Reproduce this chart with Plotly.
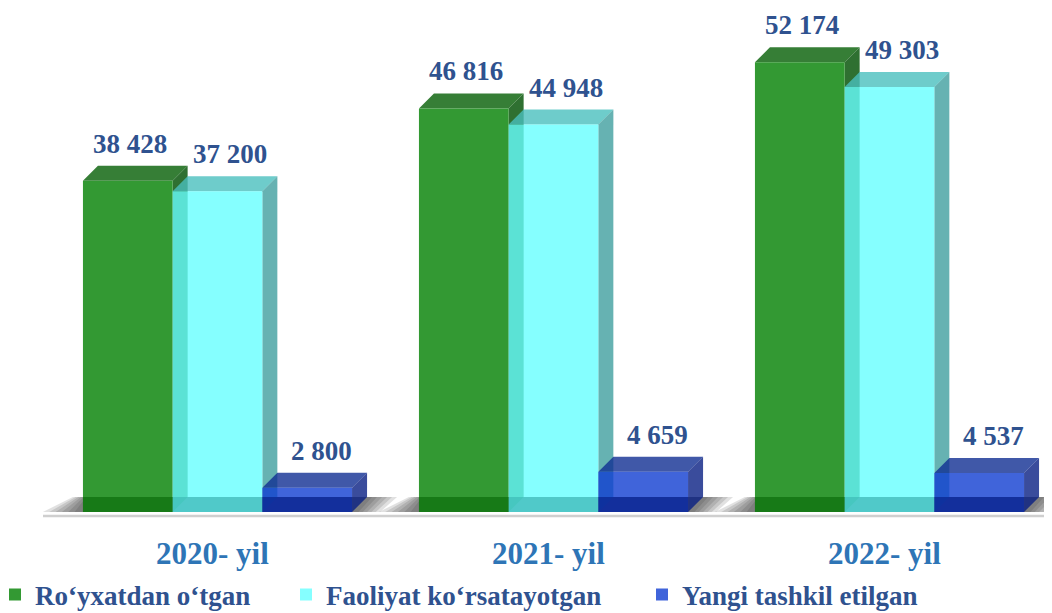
import plotly.graph_objects as go

# ---------------- data ----------------
categories = ["2020- yil", "2021- yil", "2022- yil"]
series_names = ["Ro‘yxatdan o‘tgan", "Faoliyat ko‘rsatayotgan", "Yangi tashkil etilgan"]
registered = [38428, 46816, 52174]
active = [37200, 44948, 49303]
new_created = [2800, 4659, 4537]
series_values = [registered, active, new_created]

# ---------------- geometry / style ----------------
W, H = 1052, 613
PAGE_OFF = 8.0         # browser default body margin
STEP_PX = 336.0        # pixels between category centres
X0_PX = 217.5 - PAGE_OFF   # figure pixel of first category centre
BASE_PX = 512.0 - PAGE_OFF # figure pixel of value 0
K = 0.00862            # pixels per value unit
BAR_W = 89.7 / STEP_PX
DX = 15.0 / STEP_PX    # 3D depth in x units
DY = 15.0 / K          # 3D depth in y units

x_range = [-X0_PX / STEP_PX, (W - X0_PX) / STEP_PX]
y_range = [-(H - BASE_PX) / K, BASE_PX / K]

front_colors = ["rgb(51,153,51)", "rgba(102,255,255,0.8)", "rgba(16,61,209,0.8)"]
top_colors = ["rgb(54,126,54)", "rgba(74,191,190,0.8)", "rgba(16,46,146,0.8)"]
side_colors = ["rgb(47,112,49)", "rgba(64,159,159,0.8)", "rgba(9,31,131,0.8)"]
band_colors = ["rgba(0,97,0,0.55)", "rgba(40,160,160,0.4)", "rgba(0,20,120,0.5)"]
label_xshift = [2, 12, 14]

LABEL_COLOR = "#2F528F"
CAT_COLOR = "#2E75B6"
FONT = "Times New Roman, Liberation Serif, serif"

fig = go.Figure()

def path(points):
    return "M " + " L ".join(f"{x},{y}" for x, y in points) + " Z"

shapes = []

# floor shadows (layered for soft gradient)
n_groups = len(categories)
for i in range(n_groups):
    left = i - 1.5 * BAR_W
    right = i + 1.5 * BAR_W
    for j in range(6):
        f = 1 - j / 6.0
        bl = left - (38 / STEP_PX) * f - 2 / STEP_PX
        tl = left - (10 / STEP_PX) * f + 6 / STEP_PX * (1 - f)
        br = right + (26 / STEP_PX) * f + 2 / STEP_PX
        tr = right + DX + (30 / STEP_PX) * f
        shapes.append(dict(type="path", xref="x", yref="y", layer="below",
                           path=path([(bl, 0), (tl, DY), (tr, DY), (br, 0)]),
                           fillcolor="rgba(40,40,40,0.14)", line=dict(width=0)))

# top and side faces (behind the fronts)
for i in range(n_groups):
    for k, vals in enumerate(series_values):
        v = vals[i]
        xl = i + (k - 1) * BAR_W - BAR_W / 2
        xr = xl + BAR_W
        shapes.append(dict(type="path", xref="x", yref="y", layer="below",
                           path=path([(xl, v), (xl + DX, v + DY), (xr + DX, v + DY), (xr, v)]),
                           fillcolor=top_colors[k], line=dict(width=0)))
        shapes.append(dict(type="path", xref="x", yref="y", layer="below",
                           path=path([(xr, 0), (xr, v), (xr + DX, v + DY), (xr + DX, DY)]),
                           fillcolor=side_colors[k], line=dict(width=0)))

# darker floor band over the bottom of the fronts
for i in range(n_groups):
    for k, vals in enumerate(series_values):
        xl = i + (k - 1) * BAR_W - BAR_W / 2
        shapes.append(dict(type="rect", xref="x", yref="y", layer="above",
                           x0=xl, x1=xl + BAR_W, y0=0, y1=min(DY, vals[i]),
                           fillcolor=band_colors[k], line=dict(width=0)))

# floor line
shapes.append(dict(type="line", xref="x", yref="y", layer="below",
                   x0=(43 - PAGE_OFF - X0_PX) / STEP_PX, x1=x_range[1], y0=-4 / K, y1=-4 / K,
                   line=dict(color="#CFCFCF", width=2.5)))

# front faces as bars
legend_ids = ["legend", "legend2", "legend3"]
for k, vals in enumerate(series_values):
    fig.add_trace(go.Bar(
        x=[i + (k - 1) * BAR_W for i in range(n_groups)],
        y=vals,
        width=BAR_W,
        name=series_names[k],
        marker=dict(color=front_colors[k], line=dict(width=0)),
        legend=legend_ids[k],
        hovertemplate="%{y}<extra>" + series_names[k] + "</extra>",
    ))

annotations = []
for i in range(n_groups):
    for k, vals in enumerate(series_values):
        v = vals[i]
        annotations.append(dict(
            x=i + (k - 1) * BAR_W, y=v, xref="x", yref="y",
            text=f"{v:,}".replace(",", " "), showarrow=False,
            xanchor="center", yanchor="bottom", xshift=label_xshift[k], yshift=20,
            font=dict(family=FONT, size=27, color=LABEL_COLOR, weight="bold"),
        ))
    annotations.append(dict(
        x=i, y=1 - 545 / H, xref="x", yref="paper", text=categories[i],
        showarrow=False, xanchor="center", yanchor="middle", xshift=-5,
        font=dict(family=FONT, size=31, color=CAT_COLOR, weight="bold"),
    ))

legend_style = dict(orientation="h", yanchor="middle", y=1 - 587 / H, xanchor="left",
                    bgcolor="rgba(0,0,0,0)", borderwidth=0,
                    font=dict(family=FONT, size=27, color=LABEL_COLOR, weight="bold"))
legend_x_px = [-13, 278, 634]

fig.update_layout(
    width=W, height=H,
    margin=dict(l=0, r=0, t=0, b=0, pad=0, autoexpand=False),
    paper_bgcolor="white", plot_bgcolor="white",
    barmode="overlay",
    showlegend=True,
    xaxis=dict(range=x_range, visible=False, fixedrange=True),
    yaxis=dict(range=y_range, visible=False, fixedrange=True),
    shapes=shapes,
    annotations=annotations,
    legend=dict(legend_style, x=legend_x_px[0] / W),
    legend2=dict(legend_style, x=legend_x_px[1] / W),
    legend3=dict(legend_style, x=legend_x_px[2] / W),
)

fig.write_html("out.html")
